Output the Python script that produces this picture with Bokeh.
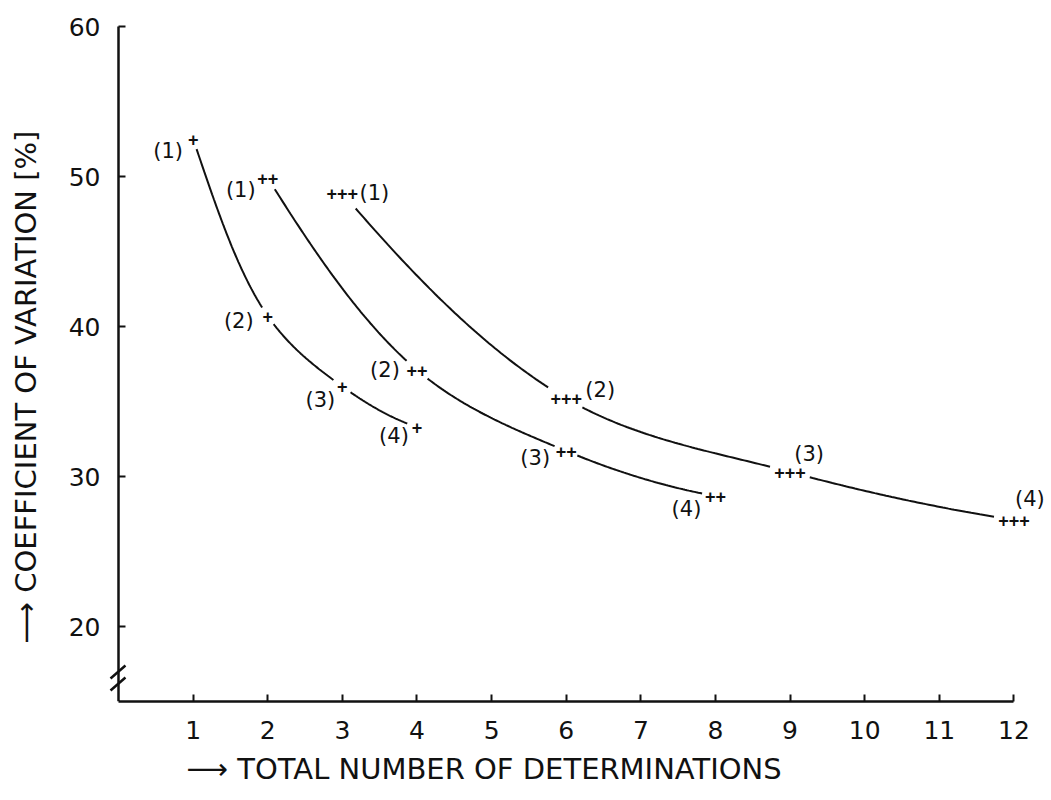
import numpy as np
from bokeh.plotting import figure
from bokeh.models import FixedTicker, Title, Range1d
from bokeh.core.properties import value
from bokeh.embed import file_html
from bokeh.resources import INLINE

# ---------------- data ----------------
x_ticks = [1, 2, 3, 4, 5, 6, 7, 8, 9, 10, 11, 12]
y_ticks = [20, 30, 40, 50, 60]
point_labels = ["(1)", "(2)", "(3)", "(4)"]

x_single = [1, 2, 3, 4]
y_single = [52.5, 40.7, 36.0, 33.3]

x_double = [2, 4, 6, 8]
y_double = [49.9, 37.1, 31.7, 28.7]

x_triple = [3, 6, 9, 12]
y_triple = [48.9, 35.2, 30.3, 27.1]

x_title = "TOTAL NUMBER OF DETERMINATIONS"
y_title = "COEFFICIENT OF VARIATION [%]"

# ---------------- layout / style ----------------
SX = 74.6
SY = 15.0
LEFT = 44                      # canvas x of the frame's left edge
X0, X1 = -(118 - LEFT) / SX, 12.45
Y0, Y1 = 15, 61
FW, FH = int(round((X1 - X0) * SX)), int(round((Y1 - Y0) * SY))
INK = "#111111"
FONT = "DejaVu Sans"

p = figure(frame_width=FW, frame_height=FH,
           x_range=Range1d(X0, X1), y_range=Range1d(Y0, Y1),
           output_backend="svg", toolbar_location=None,
           min_border_left=LEFT, min_border_right=0,
           min_border_top=11, min_border_bottom=99)
p.grid.visible = False
p.outline_line_color = None
p.background_fill_color = "white"

for ax in (p.xaxis[0], p.yaxis[0]):
    ax.axis_line_width = 2.5
    ax.axis_line_color = INK
    ax.major_tick_in = 7
    ax.major_tick_out = 0
    ax.major_tick_line_width = 2
    ax.major_tick_line_color = INK
    ax.minor_tick_line_color = None
    ax.major_label_text_font = FONT
    ax.major_label_text_font_size = "25px"
    ax.major_label_text_color = INK
p.xaxis[0].ticker = FixedTicker(ticks=x_ticks)
p.xaxis[0].bounds = (0, 12)
p.xaxis[0].major_label_standoff = 19
p.yaxis[0].ticker = FixedTicker(ticks=y_ticks)
p.yaxis[0].bounds = (15, 60)
p.yaxis[0].fixed_location = 0
p.yaxis[0].major_label_standoff = 18


def _cr(p0, p1, p2, p3, t, alpha=0.5):
    def tj(ti, a, b):
        return ti + np.linalg.norm(b - a) ** alpha
    t0 = 0.0
    t1 = tj(t0, p0, p1)
    t2 = tj(t1, p1, p2)
    t3 = tj(t2, p2, p3)
    tt = t1 + (t2 - t1) * t
    A1 = (t1 - tt) / (t1 - t0) * p0 + (tt - t0) / (t1 - t0) * p1
    A2 = (t2 - tt) / (t2 - t1) * p1 + (tt - t1) / (t2 - t1) * p2
    A3 = (t3 - tt) / (t3 - t2) * p2 + (tt - t2) / (t3 - t2) * p3
    B1 = (t2 - tt) / (t2 - t0) * A1 + (tt - t0) / (t2 - t0) * A2
    B2 = (t3 - tt) / (t3 - t1) * A2 + (tt - t1) / (t3 - t1) * A3
    return (t2 - tt) / (t2 - t1) * B1 + (tt - t1) / (t2 - t1) * B2


def smooth_segments(xs, ys, gap, n=80):
    """Smooth curve drawn through the points (pixel space), trimmed near the markers."""
    pts = np.column_stack([np.asarray(xs, float) * SX, np.asarray(ys, float) * SY])
    first = 3 * pts[0] - 3 * pts[1] + pts[2]
    last = 3 * pts[-1] - 3 * pts[-2] + pts[-3]
    P = np.vstack([first, pts, last])
    out_x, out_y = [], []
    t = np.linspace(0, 1, n)[:, None]
    for i in range(1, len(P) - 2):
        c = _cr(P[i - 1], P[i], P[i + 1], P[i + 2], t)
        d1 = np.hypot(*(c - P[i]).T)
        d2 = np.hypot(*(c - P[i + 1]).T)
        c = c[(d1 > gap) & (d2 > gap)]
        out_x.append(list(c[:, 0] / SX))
        out_y.append(list(c[:, 1] / SY))
    return out_x, out_y


series = [
    (x_single, y_single, "+", 10,
     [-25, -29, -22, -23], [12, 5, 13, 9]),
    (x_double, y_double, "++", 12,
     [-27, -32, -31, -29], [12, 0, 7, 13]),
    (x_triple, y_triple, "+++", 18,
     [32, 34, 19, 16], [0, -9, -18, -21]),
]

for xs, ys, mark, gap, ldx, ldy in series:
    cx, cy = smooth_segments(xs, ys, gap)
    p.multi_line(cx, cy, line_color=INK, line_width=2)
    p.text(xs, ys, text=[mark] * len(xs), text_align="center", text_baseline="middle",
           text_font=value("Liberation Sans"), text_font_style="bold",
           text_font_size="18px", text_color=INK)
    for x, y, lab, dx, dy in zip(xs, ys, point_labels, ldx, ldy):
        p.text([x], [y], text=[lab], x_offset=dx, y_offset=dy,
               text_align="center", text_baseline="middle",
               text_font=value(FONT), text_font_size="21px", text_color=INK)

# axis break marks on the y axis
brk_x0 = [-0.107, -0.107]
brk_x1 = [0.093, 0.093]
brk_y0 = [15.73, 16.53]
brk_y1 = [16.60, 17.40]
p.segment(brk_x0, brk_y0, brk_x1, brk_y1, line_color=INK, line_width=2.5)

# axis titles (arrow + text) in the side panels
p.add_layout(Title(text="\u27f6  " + x_title, align="left", offset=142,
                   standoff=21, vertical_align="top",
                   text_font=FONT, text_font_size="29px", text_font_style="normal",
                   text_color=INK), "below")
p.add_layout(Title(text="\u27f6  " + y_title, align="left", offset=58, standoff=4,
                   text_font=FONT, text_font_size="29px", text_font_style="normal",
                   text_color=INK), "left")

open("out.html", "w").write(file_html(p, INLINE))
